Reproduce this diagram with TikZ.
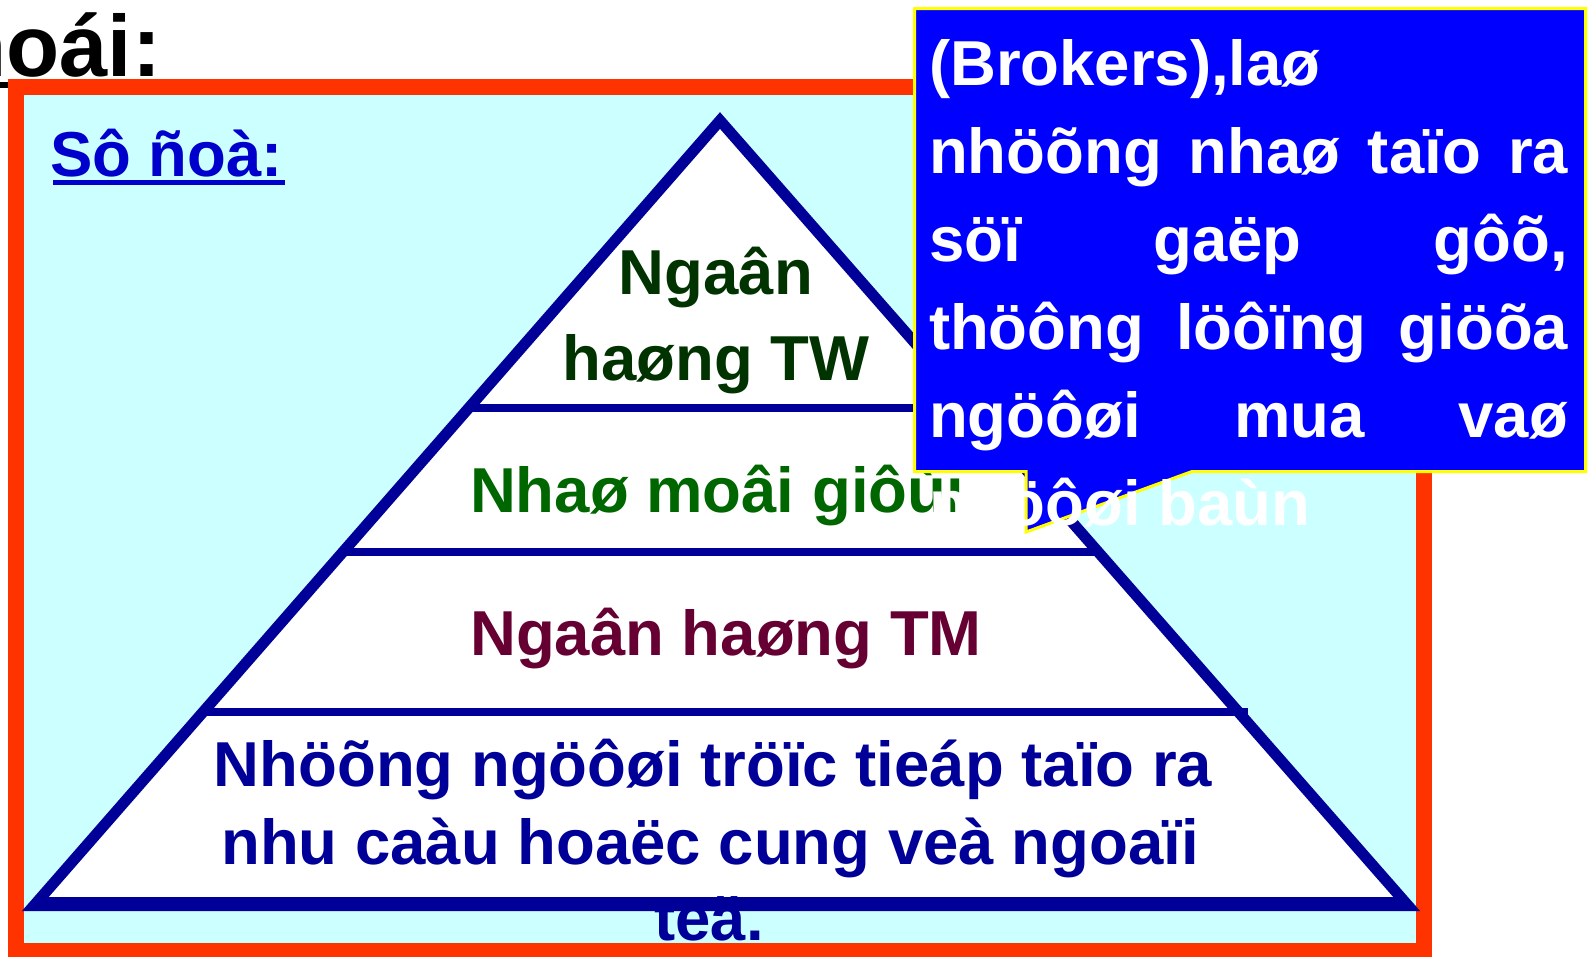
\documentclass[tikz,border=0pt]{standalone}
\usepackage{fontspec}
\setmainfont{Liberation Sans}
\definecolor{cyanbg}{HTML}{CCFFFF}
\definecolor{redframe}{HTML}{FF3300}
\definecolor{pyrblue}{HTML}{000099}
\definecolor{twgreen}{HTML}{003300}
\definecolor{brokergreen}{HTML}{006600}
\definecolor{tmmaroon}{HTML}{660033}
\definecolor{soblue}{HTML}{0000CC}
\definecolor{boxblue}{HTML}{0000FF}
\definecolor{boxyellow}{HTML}{FFFF00}
\begin{document}
\begin{tikzpicture}[x=1pt,y=-1pt,
  lbl/.style={inner sep=0pt, outer sep=0pt, font=\bfseries\fontsize{63.5}{63.5}\selectfont},
  titlefont/.style={inner sep=0pt, outer sep=0pt, font=\bfseries\fontsize{87}{87}\selectfont},
  tierline/.style={draw=pyrblue, line width=8pt},
  boxtext/.style={lbl, text=white, anchor=base west},
  pyrtext/.style={lbl, anchor=base},
]
\useasboundingbox (0,0) rectangle (1595,956);
\begin{scope}
\clip (0,0) rectangle (1595,956);
% title (partly outside the picture)
\node[titlefont, anchor=base east] (title) at (161,76) {hoái:};
\draw[line width=6pt] (-20,85) -- (150,85);
% frame
\fill[cyanbg] (16,87) rectangle (1424,951);
\draw[redframe, line width=16pt] (16,87) rectangle (1424,951);
% pyramid
\coordinate (apex) at (720,120.5);
\coordinate (bl) at (34,905.5);
\coordinate (br) at (1408,905.5);
\filldraw[fill=white, draw=pyrblue, line width=11pt, line join=miter] (apex) -- (bl) -- (br) -- cycle;
\draw[pyrblue, line width=14pt] (34,904) -- (1408,904);
\coordinate (l1a) at (468,408); \coordinate (l1b) at (975,408);
\coordinate (l2a) at (345,552); \coordinate (l2b) at (1097,552);
\coordinate (l3a) at (202,712); \coordinate (l3b) at (1248,712);
\draw[tierline] (l1a) -- (l1b);
\draw[tierline] (l2a) -- (l2b);
\draw[tierline] (l3a) -- (l3b);
% pyramid texts
\node[pyrtext, text=twgreen] (tw1) at (716,294) {Ngaân};
\node[pyrtext, text=twgreen] (tw2) at (716,380) {haøng TW};
\node[pyrtext, text=brokergreen] (mg) at (717,512) {Nhaø moâi giôùi};
\node[pyrtext, text=tmmaroon] (tm) at (726,655) {Ngaân haøng TM};
\node[pyrtext, text=pyrblue] (b1) at (713,786) {Nhöõng ngöôøi tröïc tieáp taïo ra};
\node[pyrtext, text=pyrblue] (b2) at (710,864) {nhu caàu hoaëc cung veà ngoaïi};
\node[pyrtext, text=pyrblue] (b3) at (709,940) {teä.};
% heading
\node[lbl, text=soblue, anchor=base west] (so) at (50,176) {Sô ñoà:};
\draw[soblue, line width=5pt] (53,182.5) -- (285,182.5);
% callout box
\filldraw[fill=boxblue, draw=boxyellow, line width=3pt, line join=miter]
  (914.5,8.5) -- (1585.5,8.5) -- (1585.5,471.5) -- (1192,471.5) -- (1026,532) -- (1026,471.5) -- (914.5,471.5) -- cycle;
\node[boxtext] (t1) at (929,85) {(Brokers),laø};
\node[boxtext] (t2) at (929,173) {\makebox[639pt][s]{nhöõng nhaø taïo ra}};
\node[boxtext] (t3) at (929,261) {\makebox[639pt][s]{söï gaëp gôõ,}};
\node[boxtext] (t4) at (929,349) {\makebox[639pt][s]{thöông löôïng giöõa}};
\node[boxtext] (t5) at (929,437) {\makebox[639pt][s]{ngöôøi mua vaø}};
\node[boxtext] (t6) at (929,525) {ngöôøi baùn};
\end{scope}
\end{tikzpicture}
\end{document}
